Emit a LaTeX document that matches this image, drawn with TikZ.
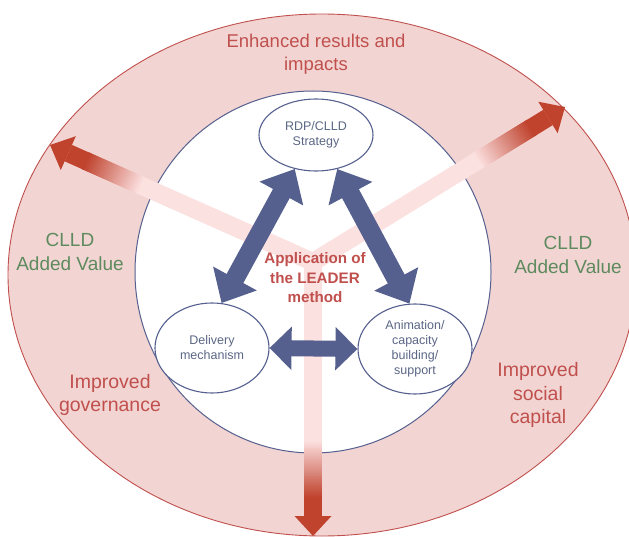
\documentclass[tikz,border=0pt]{standalone}
\usepackage{fontspec}
\setmainfont{Liberation Sans}
\usepackage{tikz}
\definecolor{ringred}{HTML}{C0504D}
\definecolor{ringpink}{HTML}{F2D5D3}
\definecolor{raypale}{HTML}{FCE1E1}
\definecolor{raydark}{HTML}{C0432E}
\definecolor{slateblue}{HTML}{55608F}
\definecolor{nodegray}{HTML}{5B6785}
\definecolor{valuegreen}{HTML}{5E8A5E}
\usetikzlibrary{positioning, arrows.meta, shapes.geometric, calc}
\tikzstyle{twoway} = [{Triangle[width=42pt,length=22pt]}-{Triangle[width=42pt,length=22pt]}, line width=16pt, draw=slateblue]
\tikzstyle{slant} = [{Triangle[width=48pt,length=28pt]}-{Triangle[width=48pt,length=28pt]}, line width=19pt, draw=slateblue]

% one red ray from the hub to a tip, pale inside, dark at the head
\newcommand{\redray}[1]{%
  \coordinate (#1base) at ($(#1)!20pt!(hub)$);
  \draw[line width=18pt, draw=raypale] (hub) -- ($(hub)!0.705!(#1base)$);
  \foreach \k in {0,...,59} {
    \pgfmathsetmacro{\tone}{\k/59*100}
    \draw[line width=18pt, draw=raydark!\tone!raypale] ($(hub)!0.70+\k*0.0038!(#1base)$) -- ($(hub)!0.70+\k*0.0038+0.008!(#1base)$);
  }
  \draw[line width=18pt, draw=raydark] ($(hub)!0.925!(#1base)$) -- (#1base);
  \fill[raydark] (#1) -- ($(#1base)!18.5pt!90:(hub)$) -- ($(#1base)!18.5pt!-90:(hub)$) -- cycle;
}

\begin{document}
\begin{tikzpicture}[x=1pt,y=-1pt]
                    \tikzstyle{every node}=[align=center, font=\fontsize{12.5}{15}\selectfont]
                    \tikzstyle{bubble} = [ellipse, draw=slateblue, fill=white, line width=1.1pt, text=nodegray, inner sep=0pt, minimum width=114pt]
                    \tikzstyle{addval} = [text=valuegreen, font=\fontsize{19}{24.5}\selectfont]
                    \tikzstyle{gain} = [text=ringred, font=\fontsize{19.5}{23.5}\selectfont]

                    \useasboundingbox (0,0) rectangle (629,537);

                    \node[ellipse, draw=ringred, fill=ringpink, line width=0.9pt, minimum width=628pt, minimum height=522pt](rim) at (322,275) {};
                    \node[ellipse, draw=slateblue, fill=white, line width=1pt, minimum width=356pt, minimum height=362pt](core) at (313,272) {};

                    \coordinate (hub) at (313,262);
                    \coordinate (tipL) at (50,145);
                    \coordinate (tipR) at (565,107);
                    \coordinate (tipD) at (313,536);
                    \redray{tipL}
                    \redray{tipR}
                    \redray{tipD}

                    \node[bubble, minimum height=72pt](rdp) at (316,135) {RDP/CLLD\\Strategy};
                    \node[bubble, minimum height=90pt](deliv) at (212,348) {Delivery\\mechanism};
                    \node[bubble, minimum height=90pt](anim) at (415,349) {Animation/\\capacity\\building/\\support};

                    \draw[slant] (rdp.238) -- (deliv.78);
                    \draw[slant] (rdp.302) -- (anim.97);
                    \draw[twoway] (deliv.east) -- (anim.west);

                    \node[text=ringred, font=\fontsize{18.5}{23}\selectfont](impacts) at (316,54) {Enhanced results and\\impacts};
                    \node[addval](valueL) at (70,252) {CLLD\\Added Value};
                    \node[addval](valueR) at (568,255) {CLLD\\Added Value};
                    \node[gain](governance) at (110,395) {Improved\\governance};
                    \node[gain](capital) at (538,395) {Improved\\social\\capital};
                    \node[text=ringred, font=\bfseries\fontsize{15.2}{19.5}\selectfont](leader) at (315,278) {Application of\\the LEADER\\method};
        
            \end{tikzpicture}
\end{document}
